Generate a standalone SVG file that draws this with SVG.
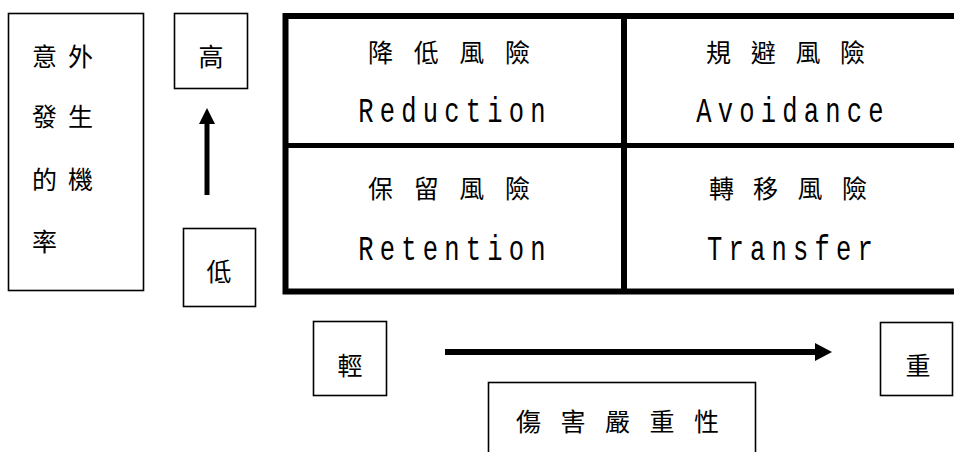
<svg xmlns="http://www.w3.org/2000/svg" width="954" height="452" viewBox="0 0 954 452">
<defs>
<style>
.box{fill:#fff;stroke:#000;stroke-width:1.6}
.cjk{font-family:"Noto Sans CJK TC","Noto Sans CJK SC",sans-serif;font-size:25px;fill:#000}
.lat{font-family:"Liberation Mono",monospace;font-size:30px;letter-spacing:7.3px;fill:#000;text-anchor:middle}
.thick{stroke:#000;fill:none}
.conn{stroke:#000;fill:none}
</style>
<marker id="hUp" markerUnits="userSpaceOnUse" markerWidth="16" markerHeight="16" viewBox="0 0 16 16" refX="1" refY="8" orient="auto">
<path d="M0,0 L16,8 L0,16 Z" fill="#000"/>
</marker>
<marker id="hRight" markerUnits="userSpaceOnUse" markerWidth="17" markerHeight="18" viewBox="0 0 17 18" refX="1" refY="9" orient="auto">
<path d="M0,0 L17,9 L0,18 Z" fill="#000"/>
</marker>
</defs>
<rect width="954" height="452" fill="#fff"/>

<g id="prob-label">
<rect class="box" x="8.5" y="13.5" width="135" height="277"/>
<text class="cjk" x="32 68" y="66">意外</text>
<text class="cjk" x="32 68" y="126">發生</text>
<text class="cjk" x="32 68" y="189">的機</text>
<text class="cjk" x="32" y="251">率</text>
</g>

<g id="high">
<rect class="box" x="174.5" y="13.5" width="73" height="75"/>
<text class="cjk" x="211" y="66" text-anchor="middle">高</text>
</g>

<g id="low">
<rect class="box" x="183.5" y="228.5" width="72" height="78"/>
<text class="cjk" x="219" y="281" text-anchor="middle">低</text>
</g>

<g id="matrix">
<rect class="thick" x="285.5" y="16" width="720" height="275.5" stroke-width="6"/>
<line class="thick" x1="624" y1="16" x2="624" y2="291.5" stroke-width="6"/>
<line class="thick" x1="285.5" y1="145.5" x2="954" y2="145.5" stroke-width="5"/>
</g>

<g id="reduction">
<text class="cjk" x="368 413.7 459.3 505" y="62">降低風險</text>
<text class="lat" transform="translate(455,122) scale(0.85,1.15)">Reduction</text>
</g>

<g id="avoidance">
<text class="cjk" x="706 750.7 795.4 840" y="62">規避風險</text>
<text class="lat" transform="translate(793,122) scale(0.85,1.15)">Avoidance</text>
</g>

<g id="retention">
<text class="cjk" x="368 413.7 459.3 505" y="198">保留風險</text>
<text class="lat" transform="translate(455,260) scale(0.85,1.15)">Retention</text>
</g>

<g id="transfer">
<text class="cjk" x="709 753 797.6 842" y="198">轉移風險</text>
<text class="lat" transform="translate(793,260) scale(0.85,1.15)">Transfer</text>
</g>

<g id="light">
<rect class="box" x="313.5" y="321.5" width="73" height="74"/>
<text class="cjk" x="350" y="375" text-anchor="middle">輕</text>
</g>

<g id="heavy">
<rect class="box" x="880.5" y="322.5" width="72" height="73"/>
<text class="cjk" x="918" y="375" text-anchor="middle">重</text>
</g>

<g id="severity">
<rect class="box" x="488.5" y="382.5" width="267" height="90"/>
<text class="cjk" x="516 560.5 605 649.5 694" y="431" style="font-size:25px">傷害嚴重性</text>
</g>

<g id="connectors">
<line class="conn" x1="207" y1="195" x2="207" y2="123" stroke-width="5" marker-end="url(#hUp)"/>
<line class="conn" x1="445" y1="352" x2="816" y2="352" stroke-width="6" marker-end="url(#hRight)"/>
</g>
</svg>
